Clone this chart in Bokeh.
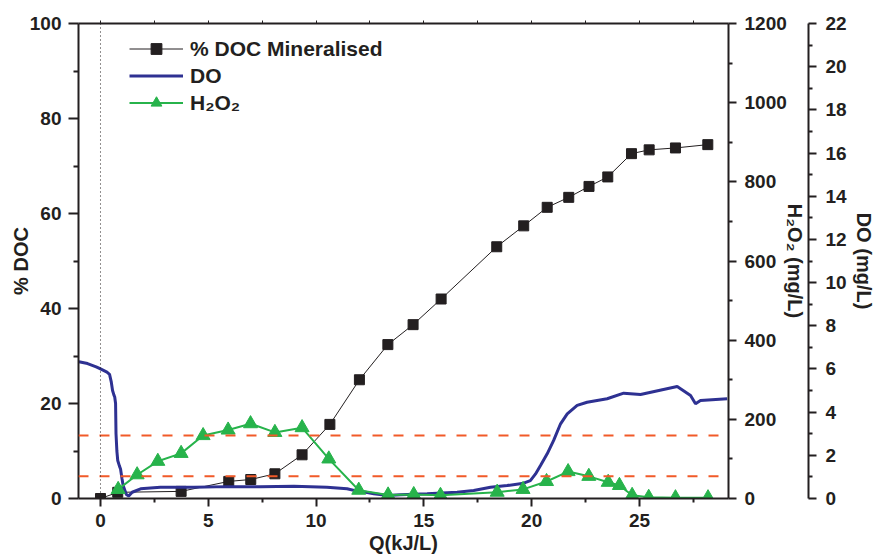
from bokeh.plotting import figure
from bokeh.models import Range1d, LinearAxis, FixedTicker, Span, Legend, LegendItem
from bokeh.embed import file_html
from bokeh.resources import INLINE

# ---------------- data ----------------
q_doc = [0, 0.8, 3.74, 5.95, 6.97, 8.09, 9.35, 10.64, 12.01, 13.33, 14.5, 15.8,
         18.38, 19.63, 20.72, 21.72, 22.66, 23.53, 24.63, 25.45, 26.67, 28.17]
doc = [0, 1.3, 1.5, 3.6, 4.0, 5.2, 9.2, 15.6, 25.0, 32.4, 36.6, 42.0,
       53.0, 57.4, 61.3, 63.4, 65.7, 67.7, 72.6, 73.4, 73.8, 74.5]

q_h2o2 = [0.82, 1.7, 2.66, 3.74, 4.76, 5.92, 6.96, 8.09, 9.35, 10.59, 11.98, 13.34,
          14.53, 15.77, 18.4, 19.6, 20.69, 21.69, 22.65, 23.55, 24.07, 24.66, 25.43,
          26.67, 28.18]
h2o2 = [23, 60, 94, 114, 159, 173, 189, 167, 179, 100, 21, 9,
        10, 8, 16, 23, 43, 68, 56, 41, 33, 8, 3,
        2, 2]

q_do = [-1.0, -0.6, -0.2, 0.0, 0.3, 0.42, 0.5, 0.56, 0.62, 0.66, 0.7, 0.72, 0.76,
        0.8, 0.88, 0.93, 1.0, 1.05, 1.2, 1.31, 1.47, 1.86, 2.78, 4.33, 5.88, 7.42,
        8.97, 10.5, 11.44, 11.9, 12.06, 12.68, 13.34, 13.91, 15.15, 16.54, 17.31,
        18.09, 18.86, 19.63, 19.94, 20.18, 20.41, 20.72, 21.02, 21.34, 21.65, 22.11,
        22.57, 23.5, 24.27, 25.05, 26.75, 27.37, 27.6, 27.83, 29.07]
do = [6.33, 6.25, 6.1, 6.0, 5.85, 5.75, 5.4, 5.0, 4.8, 4.7, 4.4, 3.0, 2.2,
      1.76, 1.5, 1.37, 0.9, 0.6, 0.19, 0.12, 0.29, 0.45, 0.52, 0.52, 0.55, 0.54,
      0.57, 0.52, 0.45, 0.34, 0.34, 0.22, 0.14, 0.17, 0.22, 0.29, 0.37,
      0.52, 0.6, 0.71, 0.83, 1.14, 1.53, 2.07, 2.69, 3.46, 3.92, 4.31,
      4.46, 4.62, 4.88, 4.82, 5.19, 4.77, 4.39, 4.54, 4.62]

do_limits = [2.92, 1.03]          # dashed reference levels (DO axis units)
q_marker = [0]                    # dotted vertical reference at Q = 0

x_ticks = [0, 5, 10, 15, 20, 25]
x_minor = [2.5, 7.5, 12.5, 17.5, 22.5, 27.5]
top_ticks = [0, 2.5, 5, 7.5, 10, 12.5, 15, 17.5, 20, 22.5, 25, 27.5]
doc_ticks = [0, 20, 40, 60, 80, 100]
doc_minor = [10, 30, 50, 70, 90]
h2o2_ticks = [0, 200, 400, 600, 800, 1000, 1200]
h2o2_minor = [100, 300, 500, 700, 900, 1100]
do_ticks = [0, 2, 4, 6, 8, 10, 12, 14, 16, 18, 20, 22]
do_minor = [1, 3, 5, 7, 9, 11, 13, 15, 17, 19, 21]

FONT = "Liberation Sans"
BLACK = "#231f20"
BLUE = "#2e3192"
GREEN = "#27b34b"
RED = "#f15a29"

p = figure(width=880, height=558, output_backend="svg", toolbar_location=None,
           x_range=Range1d(-1.02, 29.13), y_range=Range1d(0, 100),
           min_border_left=78, min_border_right=152, min_border_top=23,
           min_border_bottom=60)
p.extra_y_ranges = {"h2o2": Range1d(0, 1200), "do": Range1d(0, 22)}
p.xgrid.visible = False
p.ygrid.visible = False
p.outline_line_color = None
p.background_fill_color = "white"


def style(ax, major, minor, label, standoff=6, tick=8):
    ax.ticker = FixedTicker(ticks=major, minor_ticks=minor)
    ax.axis_label = label
    ax.axis_label_text_font = FONT
    ax.axis_label_text_font_style = "bold"
    ax.axis_label_text_font_size = "20px"
    ax.axis_label_text_color = BLACK
    ax.major_label_text_font = FONT
    ax.major_label_text_font_style = "bold"
    ax.major_label_text_font_size = "19px"
    ax.major_label_text_color = BLACK
    ax.major_label_standoff = standoff
    ax.axis_line_width = 2
    ax.axis_line_color = BLACK
    ax.major_tick_line_width = 2
    ax.minor_tick_line_width = 2
    ax.major_tick_line_color = BLACK
    ax.minor_tick_line_color = BLACK
    ax.major_tick_out = tick
    ax.major_tick_in = 0
    ax.minor_tick_out = tick // 2
    ax.minor_tick_in = 0


style(p.xaxis[0], x_ticks, x_minor, "Q(kJ/L)", 7)
p.xaxis[0].axis_label_standoff = 2
style(p.yaxis[0], doc_ticks, doc_minor, "% DOC", 7, 10)
p.yaxis[0].axis_label_standoff = -5

ax_h = LinearAxis(y_range_name="h2o2")
style(ax_h, h2o2_ticks, h2o2_minor, "H₂O₂ (mg/L)", 8)
ax_h.axis_label_standoff = -6
p.add_layout(ax_h, "right")

ax_d = LinearAxis(y_range_name="do")
style(ax_d, do_ticks, do_minor, "DO (mg/L)", 9)
ax_d.axis_label_standoff = 3
p.add_layout(ax_d, "right")

ax_t = LinearAxis()
ax_t.ticker = FixedTicker(ticks=[], minor_ticks=top_ticks)
ax_t.axis_line_width = 2
ax_t.axis_line_color = BLACK
ax_t.major_tick_out = 0
ax_t.minor_tick_out = 3
ax_t.minor_tick_in = 0
ax_t.minor_tick_line_width = 1
ax_t.minor_tick_line_color = BLACK
p.add_layout(ax_t, "above")

# reference lines
for v in do_limits:
    p.add_layout(Span(location=v, dimension="width", y_range_name="do",
                      line_color=RED, line_width=2, line_dash="10 11"))
for v in q_marker:
    p.add_layout(Span(location=v, dimension="height", line_color=BLACK,
                      line_width=1, line_dash="1 3"))

# series
l_doc = p.line(q_doc, doc, line_color=BLACK, line_width=1)
s_doc = p.scatter(q_doc, doc, marker="square", size=10, fill_color=BLACK,
                  line_color=BLACK)
l_do = p.line(q_do, do, y_range_name="do", line_color=BLUE, line_width=3)
l_h = p.line(q_h2o2, h2o2, y_range_name="h2o2", line_color=GREEN, line_width=2)
s_h = p.scatter(q_h2o2, h2o2, y_range_name="h2o2", marker="triangle", size=14,
                fill_color=GREEN, line_color=GREEN)

legend = Legend(items=[
    LegendItem(label="% DOC Mineralised", renderers=[l_doc, s_doc]),
    LegendItem(label="DO", renderers=[l_do]),
    LegendItem(label="H₂O₂", renderers=[l_h, s_h]),
], location=(51, 382))
legend.border_line_color = None
legend.background_fill_alpha = 0
legend.padding = 0
legend.margin = 0
legend.spacing = 0
legend.glyph_width = 54
legend.glyph_height = 27
legend.label_height = 27
legend.label_standoff = 7
legend.label_text_font = FONT
legend.label_text_font_style = "bold"
legend.label_text_font_size = "21px"
legend.label_text_color = BLACK
p.add_layout(legend)

open("out.html", "w").write(file_html(p, INLINE))
